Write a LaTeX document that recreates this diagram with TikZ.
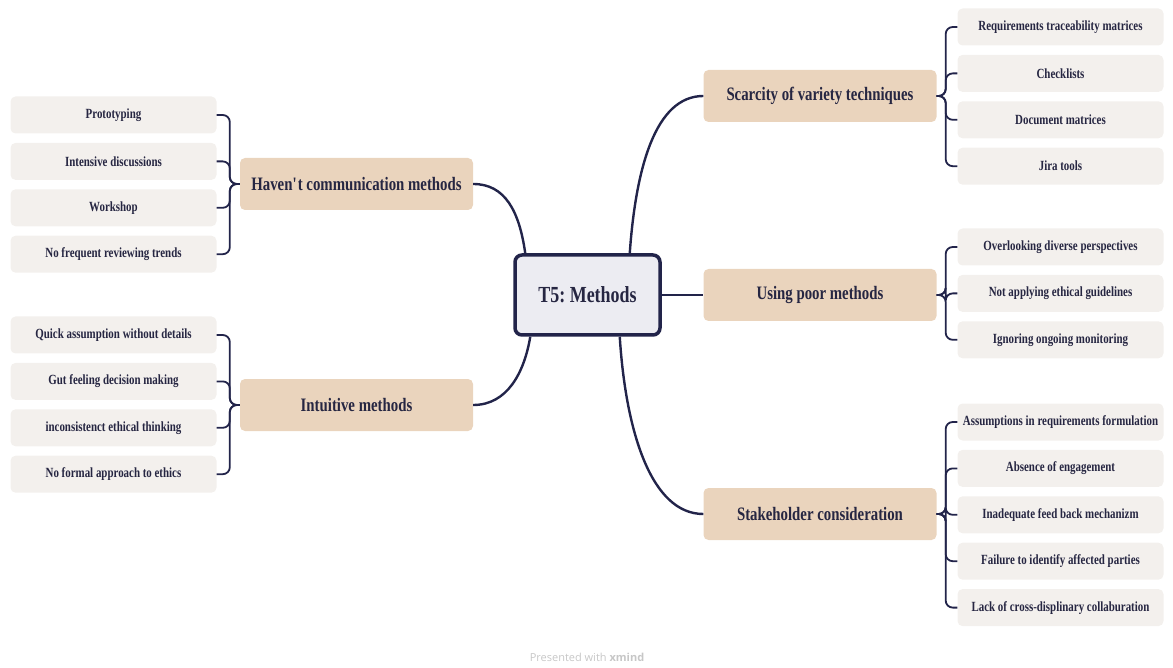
\documentclass[tikz,border=0pt]{standalone}
\usepackage{fontspec}
\setmainfont{Liberation Serif}[FakeStretch=0.78]
\newfontfamily\footfont{Open Sans}
\usepackage{tikz}
\usetikzlibrary{positioning}
\definecolor{mapnavy}{RGB}{34,36,74}
\definecolor{maptext}{RGB}{38,38,66}
\definecolor{maptan}{RGB}{234,212,189}
\definecolor{mapleaf}{RGB}{243,240,237}
\definecolor{mapcore}{RGB}{236,236,242}
\frenchspacing

\begin{document}
\begin{tikzpicture}[
    x=1pt, y=-1pt,
    node distance=9pt,
    core/.style={rectangle, rounded corners=7pt, draw=mapnavy, line width=3.5pt, fill=mapcore,
                 minimum width=145pt, minimum height=80pt, text=maptext,
                 font=\bfseries\fontsize{23}{27}\selectfont},
    topic/.style={rectangle, rounded corners=5pt, fill=maptan, minimum width=233pt,
                  minimum height=52pt, text=maptext, font=\bfseries\fontsize{19}{22}\selectfont},
    leaf/.style={rectangle, rounded corners=5pt, fill=mapleaf, minimum width=206pt,
                 minimum height=37pt, text=maptext, font=\bfseries\fontsize{14}{16}\selectfont},
    link/.style={mapnavy, line width=2.4pt},
    brace/.style={mapnavy, line width=1.8pt, rounded corners=7pt},
]
    \useasboundingbox (0,0) rectangle (1173,668);

    \node[core] (core) at (587.5,295) {T5: Methods};

    \node[topic] (hav) at (356.5,184) {Haven\textquotesingle t communication methods};
    \node[topic] (intu) at (356.5,405) {Intuitive methods};
    \node[topic] (scar) at (820,96) {Scarcity of variety techniques};
    \node[topic] (poor) at (820,295) {Using poor methods};
    \node[topic] (stake) at (820,514) {Stakeholder consideration};

    % left leaves
    \node[leaf] (hav1) at (113.5,115) {Prototyping};
    \node[leaf, below=of hav1] (hav2) {Intensive discussions};
    \node[leaf, below=of hav2] (hav3) {Workshop};
    \node[leaf, below=of hav3] (hav4) {No frequent reviewing trends};

    \node[leaf] (intu1) at (113.5,335) {Quick assumption without details};
    \node[leaf, below=of intu1] (intu2) {Gut feeling decision making};
    \node[leaf, below=of intu2] (intu3) {inconsistenct ethical thinking};
    \node[leaf, below=of intu3] (intu4) {No formal approach  to ethics};

    % right leaves
    \node[leaf] (scar1) at (1060.5,27) {Requirements traceability matrices};
    \node[leaf, below=of scar1] (scar2) {Checklists};
    \node[leaf, below=of scar2] (scar3) {Document matrices};
    \node[leaf, below=of scar3] (scar4) {Jira tools};

    \node[leaf] (poor1) at (1060.5,247) {Overlooking diverse perspectives};
    \node[leaf, below=of poor1] (poor2) {Not applying ethical guidelines};
    \node[leaf, below=of poor2] (poor3) {Ignoring ongoing monitoring};

    \node[leaf] (stake1) at (1060.5,422) {Assumptions in requirements formulation};
    \node[leaf, below=of stake1] (stake2) {Absence of engagement};
    \node[leaf, below=of stake2] (stake3) {Inadequate feed back mechanizm};
    \node[leaf, below=of stake3] (stake4) {Failure to identify affected parties};
    \node[leaf, below=of stake4] (stake5) {Lack of cross-displinary collaburation};

    % centre to topics
    \draw[link] (hav.east) .. controls +(32,0) and +(-6,-42) .. ([xshift=12pt]core.north west);
    \draw[link] ([xshift=17pt]core.south west) .. controls +(-6,36) and +(34,0) .. (intu.east);
    \draw[link] ([xshift=-32pt]core.north east) .. controls +(6,-85) and +(-48,0) .. (scar.west);
    \draw[link] (core.east) -- (poor.west);
    \draw[link] ([xshift=-42pt]core.south east) .. controls +(6,95) and +(-52,0) .. (stake.west);

    % brackets
    \foreach \n in {1,...,4} {
        \draw[brace] (hav.west) -- ++(-10,0) |- (hav\n.east);
        \draw[brace] (intu.west) -- ++(-10,0) |- (intu\n.east);
        \draw[brace] (scar.east) -- ++(9,0) |- (scar\n.west);
    }
    \foreach \n in {1,...,3}
        \draw[brace] (poor.east) -- ++(9,0) |- (poor\n.west);
    \foreach \n in {1,...,5}
        \draw[brace] (stake.east) -- ++(9,0) |- (stake\n.west);

    \node[font=\footfont\fontsize{11}{13}\selectfont, text=black!22] (credit) at (587,657)
        {Presented with \textbf{xmind}};
\end{tikzpicture}
\end{document}
